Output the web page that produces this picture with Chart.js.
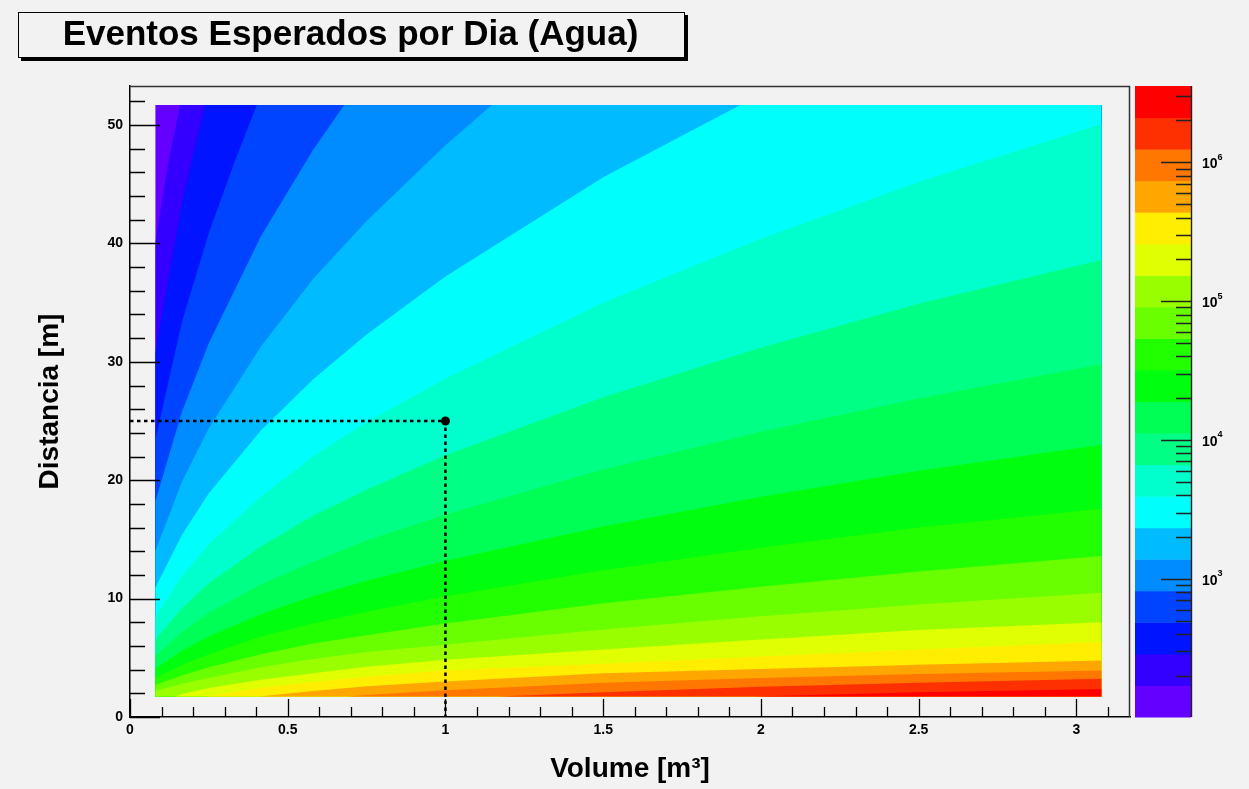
<!DOCTYPE html>
<html>
<head>
<meta charset="utf-8">
<script src="https://cdn.jsdelivr.net/npm/chart.js@4.4.0/dist/chart.umd.min.js"></script>
<style>
  html, body { margin: 0; padding: 0; background: #f2f2f2; }
  canvas { display: block; }
</style>
</head>
<body>
<canvas id="c" width="1249" height="789"></canvas>
<script>
// ---- texts ----
const chartTitle = 'Eventos Esperados por Dia (Agua)';
const xTitle = 'Volume [m³]';
const yTitle = 'Distancia [m]';

// ---- axes ----
const xRange = [0, 3.17];
const yRange = [0, 53.3];
const xMajorTicks = [0, 0.5, 1, 1.5, 2, 2.5, 3];
const xMinorTicks = [0.1, 0.2, 0.3, 0.4, 0.6, 0.7, 0.8, 0.9, 1.1, 1.2, 1.3, 1.4, 1.6, 1.7, 1.8, 1.9,
                     2.1, 2.2, 2.3, 2.4, 2.6, 2.7, 2.8, 2.9, 3.1];
const yMajorTicks = [0, 10, 20, 30, 40, 50];
const yMinorTicks = [2, 4, 6, 8, 12, 14, 16, 18, 22, 24, 26, 28, 32, 34, 36, 38, 42, 44, 46, 48, 52];

// ---- sampled region of the map ----
const volumeRange = [0.08, 3.08];
const distanceRange = [1.74, 51.7];

// ---- palette: contour level edges (events per day) and band colours ----
const zLevels = [101.2, 170.6, 288, 486, 820, 1384, 2334, 3939, 6646, 11215, 18923,
                 31930, 53880, 90910, 153400, 258800, 436700, 736900, 1243000, 2098000, 3540000];
const bandColors = ['#6300ff', '#3300ff', '#0014ff', '#0044ff', '#008bff', '#00bbff', '#00fffc',
                    '#00ffcc', '#00ff85', '#00ff55', '#00ff0e', '#22ff00', '#69ff00', '#99ff00',
                    '#e0ff00', '#ffee00', '#ffa700', '#ff7700', '#ff3000', '#ff0000'];
const zMajorTicks = [1e3, 1e4, 1e5, 1e6];
const zMinorTicks = [200, 300, 400, 500, 600, 700, 800, 900,
                     2e3, 3e3, 4e3, 5e3, 6e3, 7e3, 8e3, 9e3,
                     2e4, 3e4, 4e4, 5e4, 6e4, 7e4, 8e4, 9e4,
                     2e5, 3e5, 4e5, 5e5, 6e5, 7e5, 8e5, 9e5,
                     2e6, 3e6];

// ---- contour boundaries [volume, distance]; band k lies below boundary k ----
const c00 = [[0.08, 51.7], [3.08, 51.7]];
const c01 = [[0.08, 40.0], [0.12, 46.6], [0.159, 51.7], [3.08, 51.7]];
const c02 = [[0.08, 30.7], [0.165, 43.4], [0.2, 47.5], [0.238, 51.7], [3.08, 51.7]];
const c03 = [[0.08, 23.4], [0.165, 33.4], [0.25, 40.9], [0.33, 46.8], [0.402, 51.7], [3.08, 51.7]];
const c04 = [[0.08, 18.2], [0.165, 25.8], [0.25, 31.6], [0.415, 40.6], [0.58, 47.9], [0.679, 51.7], [3.08, 51.7]];
const c05 = [[0.08, 14.0], [0.165, 19.9], [0.25, 24.4], [0.415, 31.3], [0.58, 37.0], [0.75, 41.9], [1.0, 48.3], [1.147, 51.7], [3.08, 51.7]];
const c06 = [[0.08, 10.9], [0.165, 15.4], [0.25, 18.9], [0.415, 24.2], [0.58, 28.5], [0.75, 32.3], [1.0, 37.2], [1.5, 45.6], [1.935, 51.7], [3.08, 51.7]];
const c07 = [[0.08, 8.4], [0.165, 11.9], [0.25, 14.6], [0.415, 18.6], [0.58, 22.0], [0.75, 24.9], [1.0, 28.6], [1.5, 35.0], [2.0, 40.4], [2.5, 45.2], [3.08, 50.1]];
const c08 = [[0.08, 6.5], [0.165, 9.2], [0.25, 11.3], [0.415, 14.4], [0.58, 17.0], [0.75, 19.2], [1.0, 22.1], [1.5, 27.0], [2.0, 31.2], [2.5, 34.9], [3.08, 38.6]];
const c09 = [[0.08, 5.1], [0.165, 7.2], [0.25, 8.8], [0.415, 11.2], [0.58, 13.1], [0.75, 14.9], [1.0, 17.1], [1.5, 20.9], [2.0, 24.1], [2.5, 26.9], [3.08, 29.8]];
const c10 = [[0.08, 4.1], [0.165, 5.6], [0.25, 6.8], [0.415, 8.7], [0.58, 10.2], [0.75, 11.5], [1.0, 13.2], [1.5, 16.1], [2.0, 18.6], [2.5, 20.8], [3.08, 23.0]];
const c11 = [[0.08, 3.3], [0.165, 4.4], [0.25, 5.3], [0.415, 6.8], [0.58, 7.9], [0.75, 8.9], [1.0, 10.2], [1.5, 12.4], [2.0, 14.3], [2.5, 16.0], [3.08, 17.6]];
const c12 = [[0.08, 2.7], [0.165, 3.5], [0.25, 4.2], [0.415, 5.3], [0.58, 6.2], [0.75, 6.9], [1.0, 7.9], [1.5, 9.6], [2.0, 11.0], [2.5, 12.3], [3.08, 13.6]];
const c13 = [[0.08, 2.2], [0.165, 2.8], [0.25, 3.3], [0.415, 4.2], [0.58, 4.9], [0.75, 5.5], [1.0, 6.1], [1.5, 7.4], [2.0, 8.5], [2.5, 9.5], [3.08, 10.5]];
const c14 = [[0.08, 1.74], [0.144, 1.74], [0.165, 1.95], [0.25, 2.45], [0.415, 3.15], [0.58, 3.7], [0.75, 4.25], [1.0, 4.84], [1.5, 5.7], [2.0, 6.55], [2.5, 7.35], [3.08, 8.0]];
const c15 = [[0.08, 1.74], [0.243, 1.74], [0.415, 2.45], [0.58, 2.95], [0.75, 3.4], [1.0, 3.94], [1.5, 4.5], [2.0, 5.1], [2.5, 5.7], [3.08, 6.33]];
const c16 = [[0.08, 1.74], [0.41, 1.74], [0.58, 2.2], [0.75, 2.6], [1.0, 3.0], [1.5, 3.7], [2.0, 4.05], [2.5, 4.42], [3.08, 4.78]];
const c17 = [[0.08, 1.74], [0.69, 1.74], [0.75, 1.85], [1.0, 2.25], [1.5, 2.9], [2.0, 3.3], [2.5, 3.64], [3.08, 3.93]];
const c18 = [[0.08, 1.74], [1.17, 1.74], [1.5, 2.1], [2.0, 2.55], [2.5, 2.9], [3.08, 3.23]];
const c19 = [[0.08, 1.74], [1.97, 1.74], [2.5, 2.09], [3.08, 2.36]];
const contourLines = [c00, c01, c02, c03, c04, c05, c06, c07, c08, c09, c10,
                      c11, c12, c13, c14, c15, c16, c17, c18, c19];

// ---- reference point with its guide lines ----
const guideX = [0, 1, 1];
const guideY = [25, 25, 0];
const markerPoint = [1, 25];

const FONT = "'Liberation Sans', Arial, Helvetica, sans-serif";

// band datasets: each one fills from its boundary down to the bottom of the map
const datasets = contourLines.map((pts, k) => ({
  type: 'line',
  data: pts.map(([x, y]) => ({ x, y })),
  fill: { value: distanceRange[0] },
  backgroundColor: bandColors[k],
  borderWidth: 0,
  pointRadius: 0,
  tension: 0,
  order: 30 - k
}));
datasets.push({
  type: 'line',
  data: guideX.map((x, i) => ({ x, y: guideY[i] })),
  borderColor: '#000',
  borderWidth: 2.5,
  borderDash: [3.5, 3.5],
  pointRadius: 0,
  fill: false,
  order: 1
});
datasets.push({
  type: 'scatter',
  data: [{ x: markerPoint[0], y: markerPoint[1] }],
  backgroundColor: '#000',
  borderWidth: 0,
  pointRadius: 4.5,
  order: 0
});

// canvas background and title box
const framePlugin = {
  id: 'frame',
  beforeDraw(chart) {
    const ctx = chart.ctx;
    ctx.save();
    ctx.fillStyle = '#f2f2f2';
    ctx.fillRect(0, 0, chart.width, chart.height);
    ctx.restore();
  },
  afterDraw(chart) {
    const ctx = chart.ctx;
    const a = chart.chartArea;
    ctx.save();
    // title box with shadow
    const bx = 18, by = 12, bw = 667, bh = 46;
    ctx.fillStyle = '#000';
    ctx.fillRect(bx + 3, by + 3, bw, bh);
    ctx.fillStyle = '#f2f2f2';
    ctx.fillRect(bx, by, bw, bh);
    ctx.strokeStyle = '#000';
    ctx.lineWidth = 1;
    ctx.strokeRect(bx + 0.5, by + 0.5, bw - 1, bh - 1);
    ctx.fillStyle = '#000';
    ctx.font = 'bold 35px ' + FONT;
    ctx.textAlign = 'center';
    ctx.textBaseline = 'middle';
    ctx.fillText(chartTitle, bx + bw / 2 - 1, by + bh / 2);

    // frame top and right edges
    ctx.strokeStyle = '#333';
    ctx.lineWidth = 1.5;
    ctx.beginPath();
    ctx.moveTo(a.left, a.top + 0.5);
    ctx.lineTo(a.right - 0.5, a.top + 0.5);
    ctx.lineTo(a.right - 0.5, a.bottom);
    ctx.stroke();
    ctx.restore();
  }
};

// inward tick marks on the main axes, and the colour scale with its ticks
const ticksPlugin = {
  id: 'inwardTicks',
  afterDatasetsDraw(chart) {
    const ctx = chart.ctx;
    const xs = chart.scales.x, ys = chart.scales.y, zs = chart.scales.z;
    const a = chart.chartArea;
    ctx.save();
    ctx.strokeStyle = '#000';
    ctx.lineWidth = 1.3;
    ctx.beginPath();
    yMajorTicks.forEach(v => { const p = Math.round(ys.getPixelForValue(v)) + 0.5; ctx.moveTo(a.left, p); ctx.lineTo(a.left + 30, p); });
    yMinorTicks.forEach(v => { const p = Math.round(ys.getPixelForValue(v)) + 0.5; ctx.moveTo(a.left, p); ctx.lineTo(a.left + 15, p); });
    xMajorTicks.forEach(v => { const p = Math.round(xs.getPixelForValue(v)) + 0.5; ctx.moveTo(p, a.bottom); ctx.lineTo(p, a.bottom - 18); });
    xMinorTicks.forEach(v => { const p = Math.round(xs.getPixelForValue(v)) + 0.5; ctx.moveTo(p, a.bottom); ctx.lineTo(p, a.bottom - 10); });
    ctx.stroke();

    // colour scale
    const x0 = zs.left + 5, x1 = zs.left + 61;
    bandColors.forEach((col, k) => {
      const yTop = zs.getPixelForValue(zLevels[k + 1]);
      const yBot = zs.getPixelForValue(zLevels[k]);
      ctx.fillStyle = col;
      ctx.fillRect(x0, yTop, x1 - x0, yBot - yTop + 0.5);
    });
    ctx.strokeStyle = '#222';
    ctx.lineWidth = 1.4;
    ctx.beginPath();
    ctx.moveTo(x1 + 0.5, zs.top);
    ctx.lineTo(x1 + 0.5, zs.bottom);
    zMajorTicks.forEach(v => { const p = Math.round(zs.getPixelForValue(v)) + 0.5; ctx.moveTo(x1, p); ctx.lineTo(x1 - 30, p); });
    zMinorTicks.forEach(v => { const p = Math.round(zs.getPixelForValue(v)) + 0.5; ctx.moveTo(x1, p); ctx.lineTo(x1 - 15, p); });
    ctx.stroke();

    // decade labels 10^n
    ctx.fillStyle = '#000';
    ctx.textBaseline = 'middle';
    ctx.textAlign = 'left';
    zMajorTicks.forEach(v => {
      const p = zs.getPixelForValue(v);
      ctx.font = 'bold 14px ' + FONT;
      ctx.fillText('10', x1 + 11, p + 2);
      const w = ctx.measureText('10').width;
      ctx.font = 'bold 9px ' + FONT;
      ctx.fillText(String(Math.round(Math.log10(v))), x1 + 11 + w, p - 5);
    });
    ctx.restore();
  }
};

new Chart(document.getElementById('c'), {
  type: 'line',
  data: { datasets },
  options: {
    responsive: false,
    animation: false,
    devicePixelRatio: 1,
    layout: { padding: { top: 86, left: 0, right: 0, bottom: 0 } },
    plugins: { legend: { display: false }, tooltip: { enabled: false }, title: { display: false } },
    scales: {
      x: {
        type: 'linear', position: 'bottom', min: xRange[0], max: xRange[1],
        afterBuildTicks: s => { s.ticks = xMajorTicks.map(v => ({ value: v })); },
        afterFit: s => { s.height = 72; },
        grid: { display: false, drawTicks: false },
        border: { display: true, color: '#000', width: 1.5 },
        ticks: {
          font: { family: FONT, weight: 'bold', size: 14 }, color: '#000', padding: 5,
          maxRotation: 0, autoSkip: false, callback: v => String(v)
        },
        title: { display: true, text: xTitle, color: '#000', font: { family: FONT, weight: 'bold', size: 28 }, padding: { top: 0, bottom: 3 } }
      },
      y: {
        type: 'linear', position: 'left', min: yRange[0], max: yRange[1],
        afterBuildTicks: s => { s.ticks = yMajorTicks.map(v => ({ value: v })); },
        afterFit: s => { s.width = 130; },
        grid: { display: false, drawTicks: false },
        border: { display: true, color: '#000', width: 1.5 },
        ticks: { font: { family: FONT, weight: 'bold', size: 14 }, color: '#000', padding: 7, autoSkip: false, callback: v => String(v) },
        title: { display: true, text: yTitle, color: '#000', font: { family: FONT, weight: 'bold', size: 28 }, padding: { top: 33, bottom: 0 } }
      },
      z: {
        type: 'logarithmic', position: 'right', min: zLevels[0], max: zLevels[zLevels.length - 1],
        afterFit: s => { s.width = 119; },
        grid: { display: false, drawTicks: false },
        border: { display: false },
        ticks: { display: false }
      }
    }
  },
  plugins: [framePlugin, ticksPlugin]
});
</script>
</body>
</html>
